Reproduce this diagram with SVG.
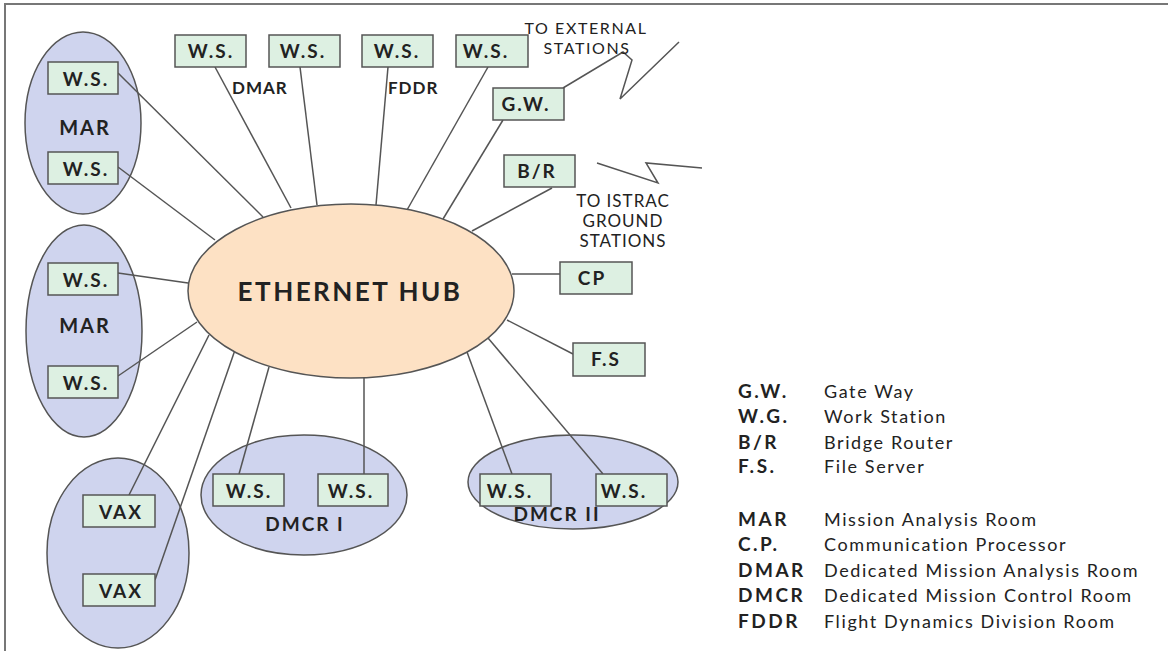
<svg xmlns="http://www.w3.org/2000/svg" width="1168" height="665" viewBox="0 0 1168 665">
<style>
.room{fill:#cfd4ee;stroke:#555;stroke-width:1.5}
.box{fill:#ddf0e2;stroke:#555;stroke-width:1.5}
.hub{fill:#fde1c4;stroke:#555;stroke-width:1.5}
.lbl{font-family:Lato,"Liberation Sans",sans-serif;font-weight:bold;font-size:19px;fill:#222;text-anchor:middle;letter-spacing:2px}
.sm{font-family:Lato,"Liberation Sans",sans-serif;font-size:17px;fill:#222;text-anchor:middle;letter-spacing:1px}
.lab{font-family:Lato,"Liberation Sans",sans-serif;font-weight:bold;font-size:17px;fill:#222;letter-spacing:1px}
.abr{font-family:Lato,"Liberation Sans",sans-serif;font-weight:bold;font-size:19px;fill:#222;letter-spacing:2.5px}
.lgd{font-family:Lato,"Liberation Sans",sans-serif;font-size:18px;fill:#222;letter-spacing:1.6px}
.lk{fill:none;stroke:#555;stroke-width:1.5}
</style>
<rect width="1168" height="665" fill="#fff"/>
<g id="frame"><path d="M5 651 V4 H1168" fill="none" stroke="#777" stroke-width="2"/></g>

<g id="rooms">
<ellipse id="mar1" class="room" cx="83" cy="123" rx="58" ry="91"/>
<ellipse id="mar2" class="room" cx="84" cy="331" rx="58" ry="106"/>
<ellipse id="vaxroom" class="room" cx="118" cy="553" rx="71" ry="95"/>
<ellipse id="dmcr1" class="room" cx="304" cy="495" rx="103" ry="60"/>
<ellipse id="dmcr2" class="room" cx="573" cy="482" rx="105" ry="47"/>
</g>

<g id="connectors" class="lk">
<line x1="118" y1="73" x2="263" y2="217"/>
<line x1="118" y1="167" x2="215" y2="240"/>
<line x1="215" y1="67" x2="291" y2="208"/>
<line x1="300" y1="67" x2="317" y2="205"/>
<line x1="388" y1="67" x2="376" y2="205"/>
<line x1="488" y1="67" x2="407" y2="210"/>
<line x1="503" y1="120" x2="443" y2="219"/>
<line x1="552" y1="188" x2="472" y2="231"/>
<line x1="512" y1="274" x2="560" y2="274"/>
<line x1="507" y1="320" x2="573" y2="354"/>
<line x1="118" y1="273" x2="188" y2="283"/>
<line x1="118" y1="376" x2="197" y2="322"/>
<line x1="129" y1="495" x2="209" y2="335"/>
<line x1="155" y1="580" x2="235" y2="350"/>
<line x1="239" y1="474" x2="269" y2="367"/>
<line x1="364" y1="474" x2="364" y2="377"/>
<line x1="512" y1="474" x2="467" y2="352"/>
<line x1="603" y1="474" x2="488" y2="338"/>
<polyline points="563,88 623,52 632,60 620,99 679,42"/>
<polyline points="597,163 658,183 646,163 702,168"/>
</g>

<g id="hub">
<ellipse class="hub" cx="351" cy="291" rx="163" ry="87"/>
<text x="350" y="301" class="lbl" style="font-size:26px;letter-spacing:2.5px">ETHERNET HUB</text>
</g>

<g id="mar1-ws1"><rect class="box" x="48" y="62" width="70" height="32"/><text class="lbl" x="86" y="86">W.S.</text></g>
<g id="mar1-ws2"><rect class="box" x="48" y="152" width="70" height="32"/><text class="lbl" x="86" y="176">W.S.</text></g>
<text id="mar1-label" class="lbl" x="85" y="135" style="font-size:20px">MAR</text>
<g id="mar2-ws1"><rect class="box" x="48" y="263" width="70" height="32"/><text class="lbl" x="86" y="287">W.S.</text></g>
<g id="mar2-ws2"><rect class="box" x="48" y="366" width="70" height="32"/><text class="lbl" x="86" y="390">W.S.</text></g>
<text id="mar2-label" class="lbl" x="85" y="333" style="font-size:20px">MAR</text>
<g id="vax1"><rect class="box" x="83" y="495" width="72" height="32"/><text class="lbl" x="121" y="519">VAX</text></g>
<g id="vax2"><rect class="box" x="83" y="574" width="72" height="32"/><text class="lbl" x="121" y="598">VAX</text></g>
<g id="dmcr1-ws1"><rect class="box" x="213" y="474" width="71" height="32"/><text class="lbl" x="249" y="498">W.S.</text></g>
<g id="dmcr1-ws2"><rect class="box" x="318" y="474" width="70" height="32"/><text class="lbl" x="351" y="498">W.S.</text></g>
<text id="dmcr1-label" class="lbl" x="305" y="531">DMCR I</text>
<g id="dmcr2-ws1"><rect class="box" x="480" y="474" width="71" height="32"/><text class="lbl" x="510" y="498">W.S.</text></g>
<g id="dmcr2-ws2"><rect class="box" x="596" y="474" width="71" height="32"/><text class="lbl" x="624" y="498">W.S.</text></g>
<text id="dmcr2-label" class="lbl" x="557" y="521">DMCR II</text>

<g id="top-ws1"><rect class="box" x="175" y="35" width="71" height="32"/><text class="lbl" x="211" y="58">W.S.</text></g>
<g id="top-ws2"><rect class="box" x="269" y="35" width="71" height="32"/><text class="lbl" x="303" y="58">W.S.</text></g>
<g id="top-ws3"><rect class="box" x="362" y="35" width="71" height="32"/><text class="lbl" x="397" y="58">W.S.</text></g>
<g id="top-ws4"><rect class="box" x="456" y="35" width="72" height="32"/><text class="lbl" x="486" y="58">W.S.</text></g>
<text id="dmar-label" class="lab" x="232" y="94">DMAR</text>
<text id="fddr-label" class="lab" x="388" y="94">FDDR</text>
<g id="gw"><rect class="box" x="493" y="88" width="71" height="32"/><text class="lbl" x="526" y="111">G.W.</text></g>
<g id="br"><rect class="box" x="504" y="155" width="71" height="32"/><text class="lbl" x="537" y="178">B/R</text></g>
<g id="cp"><rect class="box" x="560" y="262" width="72" height="32"/><text class="lbl" x="592" y="285">CP</text></g>
<g id="fs"><rect class="box" x="573" y="343" width="72" height="33"/><text class="lbl" x="606" y="366">F.S</text></g>

<g id="ext-label"><text class="sm" x="586" y="34" style="font-size:16px;letter-spacing:1.6px">TO EXTERNAL</text><text class="sm" x="587" y="54" style="font-size:16px;letter-spacing:1.6px">STATIONS</text></g>
<g id="istrac-label"><text class="sm" x="623" y="207">TO ISTRAC</text><text class="sm" x="623" y="227">GROUND</text><text class="sm" x="623" y="247">STATIONS</text></g>

<g id="legend">
<text class="abr" x="738" y="398">G.W.</text><text class="lgd" x="824" y="398">Gate Way</text>
<text class="abr" x="738" y="423">W.G.</text><text class="lgd" x="824" y="423">Work Station</text>
<text class="abr" x="738" y="449">B/R</text><text class="lgd" x="824" y="449">Bridge Router</text>
<text class="abr" x="738" y="473">F.S.</text><text class="lgd" x="824" y="473">File Server</text>
<text class="abr" x="738" y="526">MAR</text><text class="lgd" x="824" y="526">Mission Analysis Room</text>
<text class="abr" x="738" y="551">C.P.</text><text class="lgd" x="824" y="551">Communication Processor</text>
<text class="abr" x="738" y="577">DMAR</text><text class="lgd" x="824" y="577">Dedicated Mission Analysis Room</text>
<text class="abr" x="738" y="602">DMCR</text><text class="lgd" x="824" y="602">Dedicated Mission Control Room</text>
<text class="abr" x="738" y="628">FDDR</text><text class="lgd" x="824" y="628">Flight Dynamics Division Room</text>
</g>
</svg>
